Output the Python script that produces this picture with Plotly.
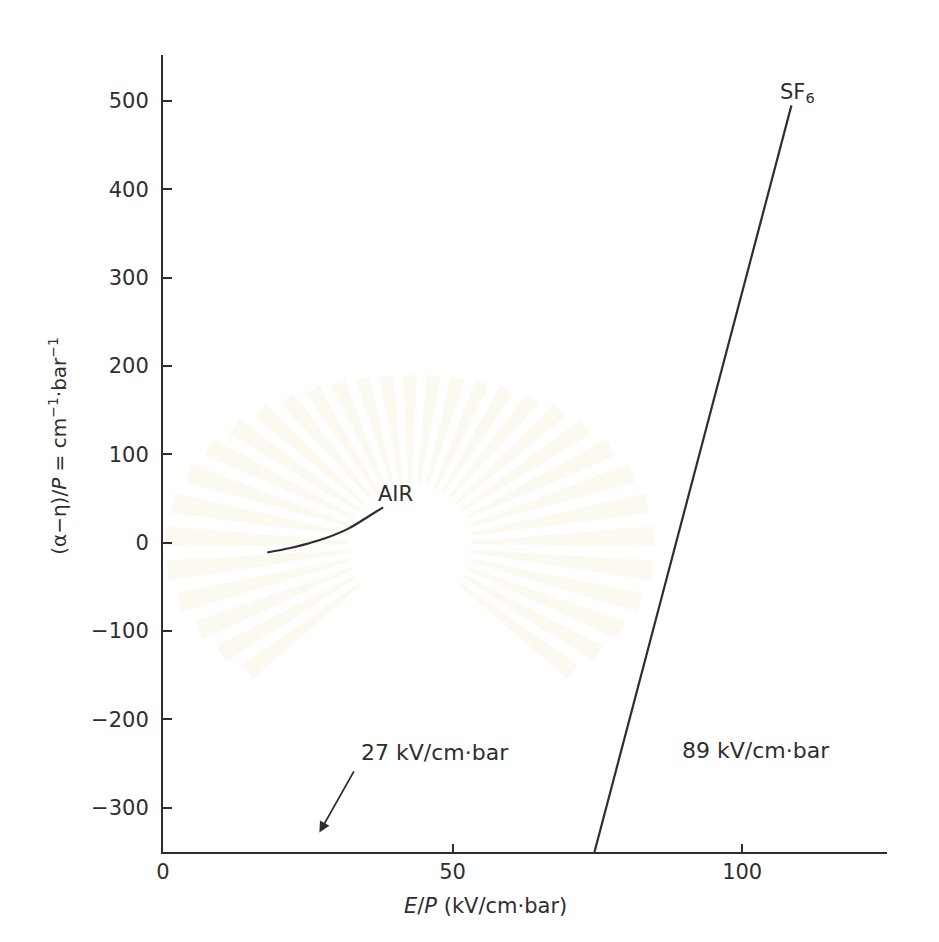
import math
import plotly.graph_objects as go

# Net ionization coefficient vs reduced field
sf6_ep = [74.5, 108.5]
sf6_coef = [-350, 495]

air_ep = [18, 22, 25, 28, 32, 36, 38]
air_coef = [-11, -6, -1, 5, 16, 32, 40]

x_ticks = [0, 50, 100]
y_ticks = [-300, -200, -100, 0, 100, 200, 300, 400, 500]

INK = "#2e2e2e"
FONT = "DejaVu Sans"

W, H = 939, 942
ML, MR, MT, MB = 163, 52, 55, 90
PW, PH = W - ML - MR, H - MT - MB


def to_paper(px, py):
    return (px - ML) / PW, (H - MB - py) / PH


# faint sunburst emblem printed behind the graph
burst = []
cx, cy = 410, 545
for k in range(33):
    a = math.radians(-38 + k * 8)
    hw = math.radians(2.4)
    r_in = 62
    r_out = 1.0 / math.sqrt((math.cos(a) / 245) ** 2 + (math.sin(a) / 170) ** 2)
    pts = []
    for ang, r in ((a - hw * 0.6, r_in), (a - hw, r_out), (a + hw, r_out), (a + hw * 0.6, r_in)):
        pts.append(to_paper(cx + r * math.cos(ang), cy - r * math.sin(ang)))
    path = "M " + " L ".join(f"{x:.4f},{y:.4f}" for x, y in pts) + " Z"
    burst.append(dict(type="path", path=path, xref="paper", yref="paper",
                      fillcolor="rgba(240,226,180,0.2)", line=dict(width=0),
                      layer="below"))

fig = go.Figure()
fig.add_trace(go.Scatter(x=sf6_ep, y=sf6_coef, mode="lines",
                         line=dict(color=INK, width=2.2), hoverinfo="skip"))
fig.add_trace(go.Scatter(x=air_ep, y=air_coef, mode="lines", line_shape="spline",
                         line=dict(color=INK, width=2.2), hoverinfo="skip"))

fig.update_layout(
    width=W, height=H,
    margin=dict(l=ML, r=MR, t=MT, b=MB),
    paper_bgcolor="white", plot_bgcolor="rgba(0,0,0,0)",
    showlegend=False,
    font=dict(family=FONT, color=INK, size=21),
    shapes=burst,
    xaxis=dict(range=[0, 125], tickvals=x_ticks, showgrid=False, zeroline=False,
               showline=True, linecolor=INK, linewidth=2,
               ticks="inside", ticklen=8, tickwidth=1.5, tickcolor=INK,
               ticklabelstandoff=0, tickfont=dict(size=21, color=INK)),
    yaxis=dict(range=[-350, 552], tickvals=y_ticks,
               ticktext=[("\u2212" + str(-v)) if v < 0 else str(v) for v in y_ticks],
               showgrid=False, zeroline=False,
               showline=True, linecolor=INK, linewidth=2,
               ticks="inside", ticklen=9, tickwidth=1.5, tickcolor=INK,
               ticklabelstandoff=8, tickfont=dict(size=21, color=INK)),
)

ann = [
    dict(x=-0.146, y=0.51, xref="paper", yref="paper", textangle=-90,
         xanchor="center", yanchor="middle",
         text="(\u03b1\u2212\u03b7)/<i>P</i> = cm<sup>\u22121</sup>\u00b7bar<sup>\u22121</sup>",
         showarrow=False, font=dict(size=20)),
    dict(x=0.446, y=-0.068, xref="paper", yref="paper",
         xanchor="center", yanchor="middle",
         text="<i>E</i>/<i>P</i> (kV/cm\u00b7bar)", showarrow=False, font=dict(size=21)),
    dict(x=109.5, y=509, xref="x", yref="y", text="SF<sub>6</sub>",
         showarrow=False, font=dict(size=21)),
    dict(x=40.2, y=55, xref="x", yref="y", text="AIR",
         showarrow=False, font=dict(size=21)),
    dict(x=47, y=-237, xref="x", yref="y", text="27 kV/cm\u00b7bar",
         showarrow=False, font=dict(size=22)),
    dict(x=102.3, y=-235, xref="x", yref="y", text="89 kV/cm\u00b7bar",
         showarrow=False, font=dict(size=22)),
    dict(x=27, y=-328, xref="x", yref="y", ax=33.1, ay=-257, axref="x", ayref="y",
         text="", showarrow=True, arrowhead=2, arrowsize=1.2, arrowwidth=1.8,
         arrowcolor=INK),
]
fig.update_layout(annotations=ann)

fig.write_html("out.html")
